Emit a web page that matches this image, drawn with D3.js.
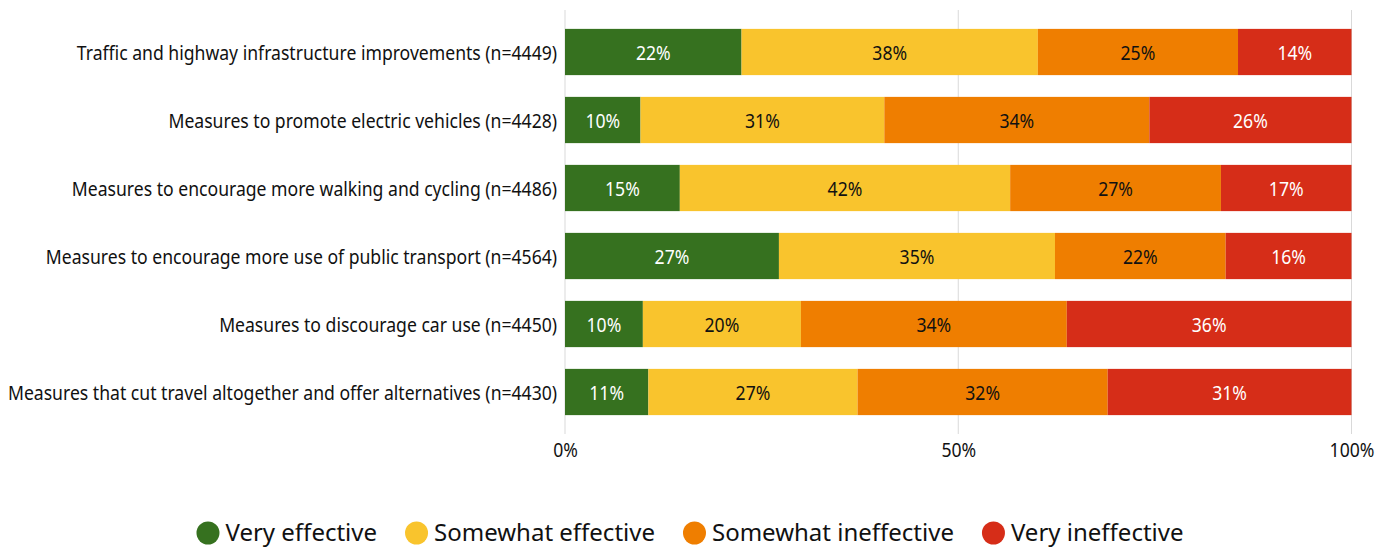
<!DOCTYPE html>
<html>
<head>
<meta charset="utf-8">
<script src="https://cdn.jsdelivr.net/npm/d3@7"></script>
<style>
  body { margin: 0; background: #fff; }
  text { font-family: "Noto Sans", sans-serif; }
</style>
</head>
<body>
<div id="chart"></div>
<script>
// Categories (top to bottom)
var categories = [
    "Traffic and highway infrastructure improvements (n=4449)",
    "Measures to promote electric vehicles (n=4428)",
    "Measures to encourage more walking and cycling (n=4486)",
    "Measures to encourage more use of public transport (n=4564)",
    "Measures to discourage car use (n=4450)",
    "Measures that cut travel altogether and offer alternatives (n=4430)"
];

// Series names and values (%)
var seriesNames = ["Very effective", "Somewhat effective", "Somewhat ineffective", "Very ineffective"];
var veryEffective = [22.4, 9.6, 14.6, 27.2, 9.9, 10.6];
var somewhatEffective = [37.6, 31.0, 42.0, 35.1, 20.1, 26.6];
var somewhatIneffective = [25.4, 33.7, 26.8, 21.7, 33.8, 31.8];
var veryIneffective = [14.4, 25.7, 16.6, 16.0, 36.2, 31.0];

var tickValues = [0, 0.5, 1];
var tickLabels = ["0%", "50%", "100%"];

var colors = ["#36711f", "#f9c42d", "#ef7e00", "#d62d18"];
var labelColors = ["#ffffff", "#111111", "#111111", "#ffffff"];

var width = 1394, height = 550;
var squeeze = "scale(0.88, 1)"; // narrow look of the chart font

// Build table for the stack
var table = categories.map(function (c, i) {
    return {
        cat: c,
        "Very effective": veryEffective[i],
        "Somewhat effective": somewhatEffective[i],
        "Somewhat ineffective": somewhatIneffective[i],
        "Very ineffective": veryIneffective[i]
    };
});

var stack = d3.stack()
    .keys(seriesNames)
    .offset(d3.stackOffsetExpand);
var series = stack(table);

var svg = d3.select("#chart").append("svg")
    .attr("width", width)
    .attr("height", height);

var x = d3.scaleLinear()
    .domain([0, 1])
    .range([565, 1351.5]);

var y = d3.scaleBand()
    .domain(categories)
    .range([18, 426])
    .paddingInner(0.32)
    .paddingOuter(0.16);

// Gridlines
svg.append("g")
    .selectAll("line")
    .data(tickValues)
    .enter().append("line")
    .attr("x1", d => x(d))
    .attr("x2", d => x(d))
    .attr("y1", 10)
    .attr("y2", 434)
    .attr("stroke", "#d9d9d9")
    .attr("stroke-width", 1);

// X axis labels
var xAxis = d3.axisBottom(x)
    .tickValues(tickValues)
    .tickFormat((d, i) => tickLabels[i])
    .tickSize(0)
    .tickPadding(9);

svg.append("g")
    .attr("transform", "translate(0, 434)")
    .call(xAxis)
    .call(g => g.select(".domain").remove())
    .selectAll("text")
    .attr("transform", squeeze)
    .style("font-family", "Noto Sans")
    .style("font-size", "20px")
    .style("fill", "#111");

// Y axis labels
var yAxis = d3.axisLeft(y)
    .tickSize(0)
    .tickPadding(9);

svg.append("g")
    .attr("transform", "translate(565, 0)")
    .call(yAxis)
    .call(g => g.select(".domain").remove())
    .selectAll("text")
    .attr("dy", "0.4em")
    .attr("transform", squeeze)
    .style("font-family", "Noto Sans")
    .style("font-size", "20px")
    .style("fill", "#111");

// Bars
var layers = svg.append("g")
    .selectAll("g")
    .data(series)
    .enter().append("g")
    .attr("fill", (d, i) => colors[i]);

layers.selectAll("rect")
    .data(d => d)
    .enter().append("rect")
    .attr("x", d => x(d[0]))
    .attr("y", d => y(d.data.cat))
    .attr("width", d => x(d[1]) - x(d[0]))
    .attr("height", y.bandwidth());

// Segment labels
var labelLayers = svg.append("g")
    .selectAll("g")
    .data(series)
    .enter().append("g")
    .style("fill", (d, i) => labelColors[i]);

labelLayers.selectAll("text")
    .data(d => d.map(p => ({ p: p, key: d.key })))
    .enter().append("text")
    .attr("transform", d => `translate(${(x(d.p[0]) + x(d.p[1])) / 2}, ${y(d.p.data.cat) + y.bandwidth() / 2}) ${squeeze}`)
    .attr("dy", "0.38em")
    .attr("text-anchor", "middle")
    .style("font-size", "20px")
    .text(d => Math.round(d.p.data[d.key]) + "%");

// Legend, centered
var legend = svg.append("g").attr("class", "legend");
var items = legend.selectAll("g")
    .data(seriesNames)
    .enter().append("g");

items.append("circle")
    .attr("r", 11.5)
    .attr("cx", 11.5)
    .attr("cy", 0)
    .attr("fill", (d, i) => colors[i]);

items.append("text")
    .attr("x", 29)
    .attr("dy", "0.35em")
    .style("font-size", "24px")
    .style("fill", "#111")
    .text(d => d);

var cursor = 0;
items.each(function () {
    var w = d3.select(this).select("text").node().getComputedTextLength();
    d3.select(this).attr("transform", `translate(${cursor}, 0)`);
    cursor += 29 + w + 28;
});
var legendWidth = cursor - 28;
legend.attr("transform", `translate(${(width - legendWidth) / 2 - 7}, 533)`);
</script>
</body>
</html>
